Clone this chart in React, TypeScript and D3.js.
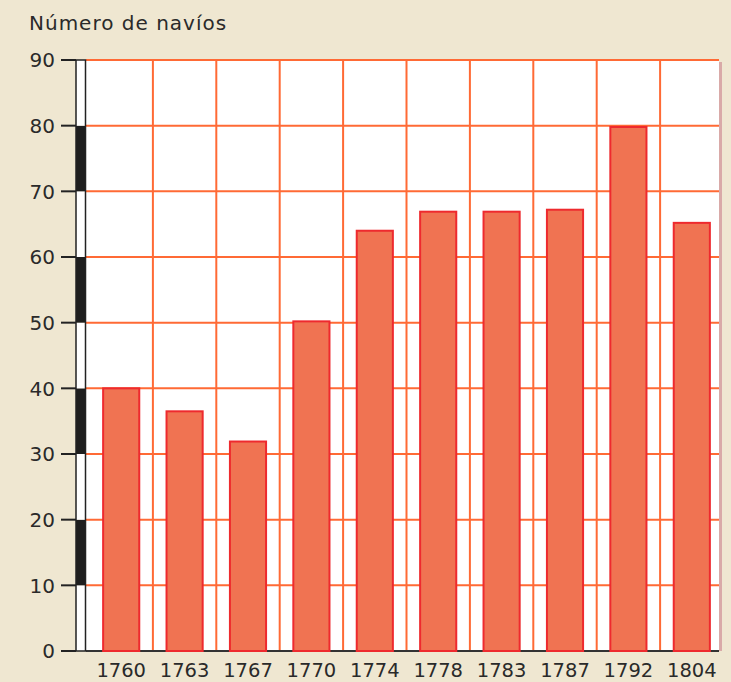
import { useEffect, useRef } from 'react'
import * as d3 from 'd3'

const WIDTH = 731
const HEIGHT = 682

// plot box
const PLOT_LEFT = 86
const PLOT_RIGHT = 719
const PLOT_TOP = 60
const PLOT_BOTTOM = 651

// data
const years = ['1760', '1763', '1767', '1770', '1774', '1778', '1783', '1787', '1792', '1804']
const ships = [40, 36.5, 31.9, 50.2, 64, 66.9, 66.9, 67.2, 79.8, 65.2]
const yTicks = [0, 10, 20, 30, 40, 50, 60, 70, 80, 90]
const yTitle = 'Número de navíos'

const BG = '#efe7d1'
const GRID = '#ff6a35'
const BAR_FILL = '#f07352'
const BAR_STROKE = '#ee2a2e'
const INK = '#2a2a2a'
const FONT = '"DejaVu Sans", Verdana, sans-serif'

export default function App() {
  const svgRef = useRef<SVGSVGElement | null>(null)

  useEffect(() => {
    if (!svgRef.current) return
    const svg = d3.select(svgRef.current)
    svg.selectAll('*').remove()

    const x = d3.scaleBand<string>()
      .domain(years)
      .range([89.5, 723.5])
      .paddingInner(0.43)
      .paddingOuter(0.215)
    const y = d3.scaleLinear().domain([0, 90]).range([PLOT_BOTTOM, PLOT_TOP])

    svg.append('rect')
      .attr('width', WIDTH).attr('height', HEIGHT)
      .attr('fill', BG)

    // title
    svg.append('text')
      .attr('x', 29).attr('y', 30)
      .attr('font-family', FONT).attr('font-size', 20)
      .attr('letter-spacing', 1)
      .attr('fill', INK)
      .text(yTitle)

    // shadow on the right edge
    svg.append('rect')
      .attr('x', PLOT_RIGHT).attr('y', PLOT_TOP + 2)
      .attr('width', 3).attr('height', PLOT_BOTTOM - PLOT_TOP - 2)
      .attr('fill', '#d9aaa8')

    // white plot area
    svg.append('rect')
      .attr('x', PLOT_LEFT).attr('y', PLOT_TOP)
      .attr('width', PLOT_RIGHT - PLOT_LEFT).attr('height', PLOT_BOTTOM - PLOT_TOP)
      .attr('fill', '#fff')

    // horizontal grid
    svg.append('g').selectAll('line')
      .data(yTicks.filter(d => d > 0))
      .enter().append('line')
      .attr('x1', PLOT_LEFT).attr('x2', PLOT_RIGHT)
      .attr('y1', d => y(d)).attr('y2', d => y(d))
      .attr('stroke', GRID).attr('stroke-width', 2)

    // vertical grid between bars
    const step = x.step()
    svg.append('g').selectAll('line')
      .data(years.slice(0, -1))
      .enter().append('line')
      .attr('x1', d => (x(d) as number) + x.bandwidth() / 2 + step / 2)
      .attr('x2', d => (x(d) as number) + x.bandwidth() / 2 + step / 2)
      .attr('y1', PLOT_TOP).attr('y2', PLOT_BOTTOM)
      .attr('stroke', GRID).attr('stroke-width', 2)

    // baseline
    svg.append('line')
      .attr('x1', PLOT_LEFT).attr('x2', PLOT_RIGHT)
      .attr('y1', PLOT_BOTTOM).attr('y2', PLOT_BOTTOM)
      .attr('stroke', '#333').attr('stroke-width', 2)

    // bars
    svg.append('g').selectAll('rect')
      .data(years.map((yr, i) => ({ yr, v: ships[i] })))
      .enter().append('rect')
      .attr('x', d => x(d.yr) as number)
      .attr('y', d => y(d.v))
      .attr('width', x.bandwidth())
      .attr('height', d => PLOT_BOTTOM - y(d.v))
      .attr('fill', BAR_FILL)
      .attr('stroke', BAR_STROKE)
      .attr('stroke-width', 2)

    // striped scale bar on the y axis
    const barX = 76
    const barW = 9.5
    const axis = svg.append('g')
    axis.selectAll('rect')
      .data(yTicks.slice(0, -1))
      .enter().append('rect')
      .attr('x', barX).attr('width', barW)
      .attr('y', d => y(d + 10)).attr('height', d => y(d) - y(d + 10))
      .attr('fill', d => (d / 10) % 2 === 1 ? '#1e1e1e' : '#fff')
    axis.append('rect')
      .attr('x', barX).attr('y', PLOT_TOP)
      .attr('width', barW).attr('height', PLOT_BOTTOM - PLOT_TOP)
      .attr('fill', 'none').attr('stroke', '#222').attr('stroke-width', 1.5)

    // y ticks + labels
    const ticks = axis.selectAll('g.tick')
      .data(yTicks)
      .enter().append('g')
      .attr('class', 'tick')
      .attr('transform', d => `translate(0,${y(d)})`)
    ticks.append('line')
      .attr('x1', 61).attr('x2', barX)
      .attr('stroke', '#222').attr('stroke-width', 2)
    ticks.append('text')
      .attr('x', 55).attr('dy', '0.36em')
      .attr('text-anchor', 'end')
      .attr('font-family', FONT).attr('font-size', 20)
      .attr('fill', INK)
      .text(d => String(d))

    // x labels
    svg.append('g').selectAll('text')
      .data(years)
      .enter().append('text')
      .attr('x', d => (x(d) as number) + x.bandwidth() / 2)
      .attr('y', 677)
      .attr('text-anchor', 'middle')
      .attr('font-family', FONT).attr('font-size', 19.5)
      .attr('fill', INK)
      .text(d => d)
  }, [])

  return (
    <svg
      ref={svgRef}
      width={WIDTH}
      height={HEIGHT}
      style={{ position: 'absolute', left: 0, top: 0, display: 'block' }}
    />
  )
}
